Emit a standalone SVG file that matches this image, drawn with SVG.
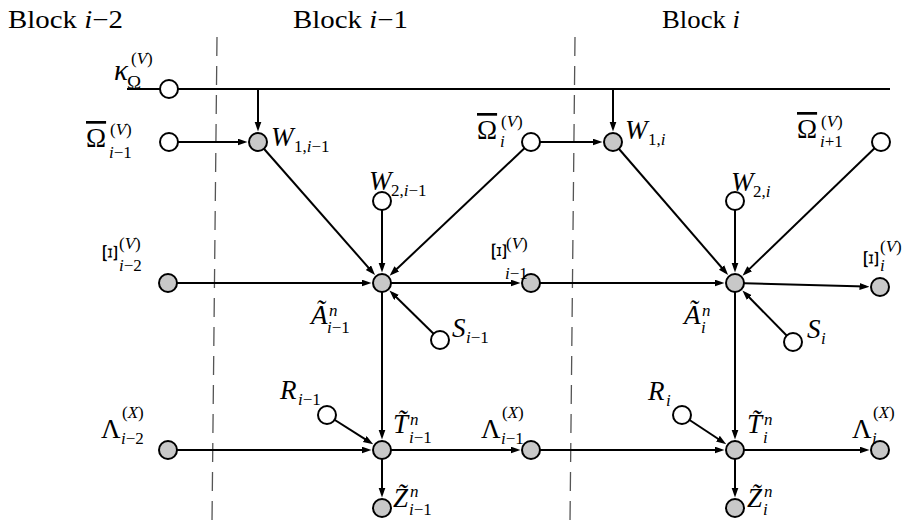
<svg xmlns="http://www.w3.org/2000/svg" width="910" height="527" viewBox="0 0 910 527">
<style>
.w{fill:#fff;stroke:#000;stroke-width:2}
.g{fill:#c8c8c8;stroke:#000;stroke-width:2}
.e{stroke:#000;stroke-width:2;fill:none}
.a{marker-end:url(#ah)}
.d{stroke:#555;stroke-width:1.3;stroke-dasharray:19 10;fill:none}
text{font-family:"Liberation Serif","Times New Roman",serif;font-size:27px;fill:#000}
.b{font-size:25px}
.s{font-size:17px}
.i{font-style:italic}
.o{text-decoration:overline}
.x{text-anchor:middle;dominant-baseline:central;font-size:21px}
</style>
<defs>
<marker id="ah" markerUnits="userSpaceOnUse" markerWidth="10" markerHeight="8" refX="6" refY="3.5" orient="auto">
<path d="M0,0 L10,3.5 L0,7 z" fill="#000"/>
</marker>
</defs>
<g id="blocks">
<text class="b" x="8" y="28" textLength="115" lengthAdjust="spacingAndGlyphs">Block <tspan class="i">i</tspan>−2</text>
<text class="b" x="293" y="28" textLength="115" lengthAdjust="spacingAndGlyphs">Block <tspan class="i">i</tspan>−1</text>
<text class="b" x="662" y="28" textLength="78" lengthAdjust="spacingAndGlyphs">Block <tspan class="i">i</tspan></text>
<line class="d" x1="217" y1="37" x2="212" y2="522"/>
<line class="d" x1="575" y1="37" x2="570" y2="522"/>
</g>
<g id="connectors">
<line class="e" x1="127" y1="89" x2="890" y2="89"/>
<line class="e a" x1="258" y1="89" x2="258" y2="127.5"/>
<line class="e a" x1="613" y1="89" x2="613" y2="127.5"/>
<line class="e a" x1="169" y1="142" x2="243.5" y2="142"/>
<line class="e a" x1="531" y1="142" x2="598.5" y2="142"/>
<line class="e a" x1="258" y1="142" x2="372.4" y2="272.1"/>
<line class="e a" x1="531" y1="142" x2="392.5" y2="273"/>
<line class="e a" x1="382" y1="201" x2="382" y2="268.5"/>
<line class="e a" x1="168" y1="283" x2="367.5" y2="283"/>
<line class="e a" x1="440" y1="340" x2="392.3" y2="293.2"/>
<line class="e a" x1="382" y1="283" x2="516.5" y2="283"/>
<line class="e a" x1="382" y1="283" x2="382" y2="435.5"/>
<line class="e a" x1="531" y1="283" x2="720.5" y2="283"/>
<line class="e a" x1="613" y1="142" x2="725.5" y2="272"/>
<line class="e a" x1="881" y1="142" x2="745.4" y2="272.9"/>
<line class="e a" x1="735" y1="201" x2="735" y2="268.5"/>
<line class="e a" x1="793" y1="342" x2="745.2" y2="293.3"/>
<line class="e a" x1="735" y1="283" x2="865.5" y2="286.6"/>
<line class="e a" x1="735" y1="283" x2="735" y2="435.5"/>
<line class="e a" x1="168" y1="450" x2="367.5" y2="450"/>
<line class="e a" x1="327" y1="415" x2="369.8" y2="442.2"/>
<line class="e a" x1="382" y1="450" x2="516.5" y2="450"/>
<line class="e a" x1="382" y1="450" x2="382" y2="493.5"/>
<line class="e a" x1="531" y1="450" x2="720.5" y2="450"/>
<line class="e a" x1="682" y1="415" x2="722.9" y2="442"/>
<line class="e a" x1="735" y1="450" x2="865.5" y2="450"/>
<line class="e a" x1="735" y1="450" x2="735" y2="493.5"/>
</g>
<g id="kappa">
<circle class="w" cx="169" cy="89" r="9"/>
<text class="i" x="114" y="80" style="font-size:29px">κ</text>
<text class="s" x="127" y="89" style="font-size:19px">Ω</text>
<text class="s" x="131" y="64">(<tspan class="i">V</tspan>)</text>
</g>
<g id="omega_im1">
<circle class="w" cx="169" cy="142" r="9"/>
<text class="o" x="86" y="147">Ω</text>
<text class="s" x="110" y="135">(<tspan class="i">V</tspan>)</text>
<text class="s" x="109" y="158"><tspan class="i">i</tspan>−1</text>
</g>
<g id="w1_im1">
<circle class="g" cx="258" cy="142" r="9"/>
<text class="i" x="271" y="146">W</text>
<text class="s" x="294" y="152">1,<tspan class="i">i</tspan>−1</text>
</g>
<g id="omega_i">
<circle class="w" cx="531" cy="142" r="9"/>
<text class="o" x="477" y="139">Ω</text>
<text class="s" x="501" y="127">(<tspan class="i">V</tspan>)</text>
<text class="s i" x="500" y="147">i</text>
</g>
<g id="w1_i">
<circle class="g" cx="613" cy="142" r="9"/>
<text class="i" x="625" y="139">W</text>
<text class="s" x="648" y="145">1,<tspan class="i">i</tspan></text>
</g>
<g id="omega_ip1">
<circle class="w" cx="881" cy="142" r="9"/>
<text class="o" x="797" y="138">Ω</text>
<text class="s" x="821" y="127">(<tspan class="i">V</tspan>)</text>
<text class="s" x="820" y="147"><tspan class="i">i</tspan>+1</text>
</g>
<g id="w2_im1">
<circle class="w" cx="382" cy="201" r="9"/>
<text class="i" x="369" y="190">W</text>
<text class="s" x="391" y="196">2,<tspan class="i">i</tspan>−1</text>
</g>
<g id="w2_i">
<circle class="w" cx="735" cy="201" r="9"/>
<text class="i" x="731" y="191">W</text>
<text class="s" x="753" y="197">2,<tspan class="i">i</tspan></text>
</g>
<g id="xi_im2">
<circle class="g" cx="168" cy="283" r="9"/>
<text class="x" transform="translate(110 253) rotate(90) scale(1.45 1)">Ξ</text>
<text class="s" x="119" y="249">(<tspan class="i">V</tspan>)</text>
<text class="s" x="119" y="271"><tspan class="i">i</tspan>−2</text>
</g>
<g id="a_im1">
<circle class="g" cx="382" cy="283" r="9"/>
<text class="i" x="311" y="324">Ã</text>
<text class="s i" x="329" y="316">n</text>
<text class="s" x="327" y="333"><tspan class="i">i</tspan>−1</text>
</g>
<g id="s_im1">
<circle class="w" cx="440" cy="340" r="9"/>
<text class="i" x="452" y="337">S</text>
<text class="s" x="466" y="343"><tspan class="i">i</tspan>−1</text>
</g>
<g id="xi_im1">
<circle class="g" cx="531" cy="283" r="9"/>
<text class="x" transform="translate(498.5 251.5) rotate(90) scale(1.45 1)">Ξ</text>
<text class="s" x="506" y="249">(<tspan class="i">V</tspan>)</text>
<text class="s" x="505" y="279"><tspan class="i">i</tspan>−1</text>
</g>
<g id="a_i">
<circle class="g" cx="735" cy="283" r="9"/>
<text class="i" x="684" y="324">Ã</text>
<text class="s i" x="702" y="316">n</text>
<text class="s i" x="701" y="333">i</text>
</g>
<g id="s_i">
<circle class="w" cx="793" cy="342" r="9"/>
<text class="i" x="807" y="338">S</text>
<text class="s i" x="821" y="344">i</text>
</g>
<g id="xi_i">
<circle class="g" cx="880" cy="287" r="9"/>
<text class="x" transform="translate(871 259) rotate(90) scale(1.45 1)">Ξ</text>
<text class="s" x="880" y="252">(<tspan class="i">V</tspan>)</text>
<text class="s i" x="880" y="271">i</text>
</g>
<g id="lam_im2">
<circle class="g" cx="168" cy="450" r="9"/>
<text x="101" y="438">Λ</text>
<text class="s" x="122" y="418">(<tspan class="i">X</tspan>)</text>
<text class="s" x="121" y="444"><tspan class="i">i</tspan>−2</text>
</g>
<g id="r_im1">
<circle class="w" cx="327" cy="415" r="9"/>
<text class="i" x="280" y="399">R</text>
<text class="s" x="298" y="405"><tspan class="i">i</tspan>−1</text>
</g>
<g id="t_im1">
<circle class="g" cx="382" cy="450" r="9"/>
<text class="i" x="393" y="433">T̃</text>
<text class="s i" x="410" y="425">n</text>
<text class="s" x="409" y="443"><tspan class="i">i</tspan>−1</text>
</g>
<g id="z_im1">
<circle class="g" cx="382" cy="508" r="9"/>
<text class="i" x="393" y="507">Z̃</text>
<text class="s i" x="410" y="497">n</text>
<text class="s" x="409" y="515"><tspan class="i">i</tspan>−1</text>
</g>
<g id="lam_im1">
<circle class="g" cx="531" cy="450" r="9"/>
<text x="481" y="438">Λ</text>
<text class="s" x="502" y="418">(<tspan class="i">X</tspan>)</text>
<text class="s" x="501" y="444"><tspan class="i">i</tspan>−1</text>
</g>
<g id="r_i">
<circle class="w" cx="682" cy="415" r="9"/>
<text class="i" x="648" y="400">R</text>
<text class="s i" x="666" y="406">i</text>
</g>
<g id="t_i">
<circle class="g" cx="735" cy="450" r="9"/>
<text class="i" x="747" y="433">T̃</text>
<text class="s i" x="764" y="425">n</text>
<text class="s i" x="763" y="443">i</text>
</g>
<g id="z_i">
<circle class="g" cx="735" cy="508" r="9"/>
<text class="i" x="747" y="507">Z̃</text>
<text class="s i" x="764" y="497">n</text>
<text class="s i" x="763" y="515">i</text>
</g>
<g id="lam_i">
<circle class="g" cx="880" cy="450" r="9"/>
<text x="852" y="438">Λ</text>
<text class="s" x="873" y="418">(<tspan class="i">X</tspan>)</text>
<text class="s i" x="872" y="444">i</text>
</g>
</svg>
